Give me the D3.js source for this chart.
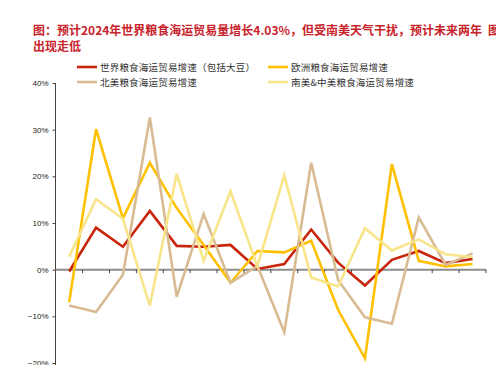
<!DOCTYPE html>
<html lang="zh">
<head>
  <meta charset="UTF-8">
  <title>世界粮食海运贸易增速</title>
  <script src="https://d3js.org/d3.v7.min.js"></script>
  <style>
    body { margin: 0; background: #fff; }
    svg { display: block; }
  </style>
</head>
<body>
  <div id="chart"></div>
  <script>
    // categories (years, labels fall below the visible area)
    const years = ["2010", "2011", "2012", "2013", "2014", "2015", "2016", "2017",
                   "2018", "2019", "2020", "2021", "2022", "2023", "2024", "2025"];

    // growth rates, %
    const world = [-0.4, 9.0, 4.9, 12.6, 5.1, 4.9, 5.3, 0.15, 1.2, 8.6, 1.5, -3.4, 2.1, 4.0, 1.4, 2.3];
    const europe = [-7.0, 30.1, 11.0, 22.9, 13.2, 5.3, -2.8, 4.0, 3.7, 6.2, -8.6, -19.0, 22.6, 1.9, 0.7, 1.2];
    const northAm = [-7.7, -9.1, -1.1, 32.6, -5.8, 11.9, -2.8, 0.8, -13.4, 22.9, -2.2, -10.2, -11.6, 11.2, 1.0, 3.5];
    const southAm = [2.8, 15.1, 10.9, -7.7, 20.5, 1.9, 16.8, 0.7, 20.2, -1.7, -3.6, 8.9, 4.1, 6.5, 3.3, 2.7];

    const yTicks = [-20, -10, 0, 10, 20, 30, 40];

    const series = [
      {name: "世界粮食海运贸易增速（包括大豆）", values: world, color: "#c9240c"},
      {name: "欧洲粮食海运贸易增速", values: europe, color: "#ffc000"},
      {name: "北美粮食海运贸易增速", values: northAm, color: "#d8bb93"},
      {name: "南美&中美粮食海运贸易增速", values: southAm, color: "#f8e58a"}
    ];

    const width = 496, height = 365;
    const svg = d3.select("#chart").append("svg")
      .attr("width", width)
      .attr("height", height);

    // title
    const title = svg.append("g")
      .attr("fill", "#c8232b")
      .style("font-family", "'Noto Sans CJK SC', sans-serif")
      .style("font-size", "12px")
      .style("font-weight", "bold");
    title.append("text").attr("x", 33).attr("y", 35)
      .text("图：预计2024年世界粮食海运贸易量增长4.03%，但受南美天气干扰，预计未来两年");
    title.append("text").attr("x", 33).attr("y", 51).text("出现走低");
    title.append("text").attr("x", 488).attr("y", 35).text("图");

    const x = d3.scaleBand().domain(years).range([55.7, 486]);
    const y = d3.scaleLinear().domain([-20, 40]).range([363, 83]);

    // y axis
    const yAxis = svg.append("g")
      .attr("transform", "translate(55.5,0)")
      .call(d3.axisLeft(y).tickValues(yTicks).tickSize(3).tickPadding(4)
        .tickFormat(d => (d < 0 ? "\u2212" + Math.abs(d) : d) + "%"));
    yAxis.select(".domain").attr("stroke", "#444").attr("d", "M0,83V370");
    yAxis.selectAll(".tick line").attr("stroke", "#444");
    yAxis.selectAll(".tick text")
      .attr("fill", "#222")
      .style("font-family", "'Liberation Sans', Arial, sans-serif")
      .style("font-size", "8px");

    // x axis along zero
    const xAxis = svg.append("g")
      .attr("transform", `translate(0,${y(0)})`)
      .call(d3.axisBottom(x).tickSize(0).tickFormat(""));
    xAxis.select(".domain").attr("stroke", "#8c8c8c").attr("stroke-width", 2)
      .attr("d", `M${x.range()[0]},0H${x.range()[1]}`);
    // boundary ticks between categories
    xAxis.append("g").selectAll("line")
      .data(years.slice(1).concat(["end"]))
      .join("line")
      .attr("x1", (d, i) => x.range()[0] + x.step() * (i + 1))
      .attr("x2", (d, i) => x.range()[0] + x.step() * (i + 1))
      .attr("y1", 0).attr("y2", 3.5)
      .attr("stroke", "#444");

    // lines
    const line = d3.line()
      .x((d, i) => x(years[i]) + x.bandwidth() / 2)
      .y(d => y(d));

    svg.append("g").selectAll("path")
      .data(series)
      .join("path")
      .attr("d", d => line(d.values))
      .attr("fill", "none")
      .attr("stroke", d => d.color)
      .attr("stroke-width", 2.6)
      .attr("stroke-linejoin", "miter");

    // legend
    const legendPos = [[77, 67], [268, 67], [77, 82], [268, 82]];
    const legend = svg.append("g").selectAll("g")
      .data(series)
      .join("g")
      .attr("transform", (d, i) => `translate(${legendPos[i][0]},${legendPos[i][1]})`);
    legend.append("line")
      .attr("x1", 0).attr("x2", 20)
      .attr("stroke", d => d.color)
      .attr("stroke-width", 2.6);
    legend.append("text")
      .attr("x", 23).attr("y", 3.5)
      .attr("fill", "#333")
      .style("font-family", "'Noto Sans CJK SC', sans-serif")
      .style("font-size", "9.5px")
      .style("letter-spacing", "0.2px")
      .text(d => d.name);
  </script>
</body>
</html>
